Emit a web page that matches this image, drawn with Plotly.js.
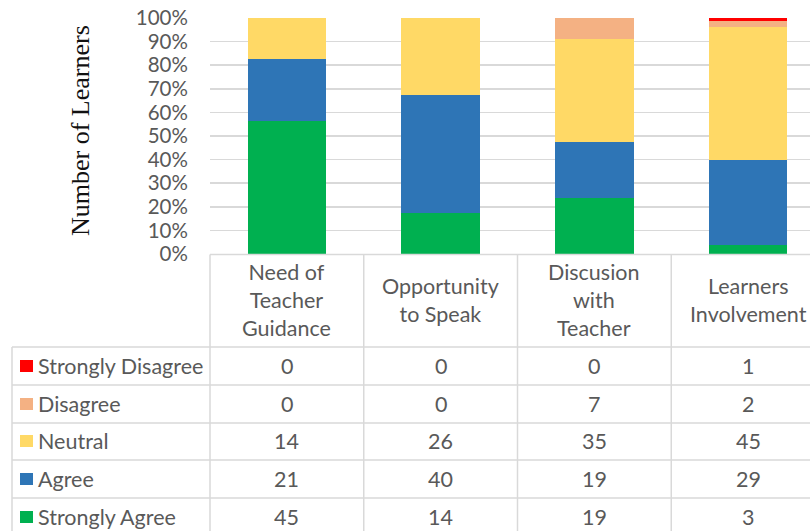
<!DOCTYPE html>
<html>
<head>
<meta charset="utf-8">
<script src="https://cdn.plot.ly/plotly-3.0.1.min.js"></script>
<style>
html,body{margin:0;padding:0;overflow:hidden;background:#fff;width:810px;height:531px;}
#chart{width:830px;height:531px;}
</style>
</head>
<body>
<div id="chart"></div>
<script>
// ---- data ----
const categories = ["Need of Teacher Guidance", "Opportunity to Speak", "Discusion with Teacher", "Learners Involvement"];
const headerLabels = ["Need of<br>Teacher<br>Guidance", "Opportunity<br>to Speak", "Discusion<br>with<br>Teacher", "Learners<br>Involvement"];
const seriesNames = ["Strongly Disagree", "Disagree", "Neutral", "Agree", "Strongly Agree"];
const stronglyDisagree = [0, 0, 0, 1];
const disagree = [0, 0, 7, 2];
const neutral = [14, 26, 35, 45];
const agree = [21, 40, 19, 29];
const stronglyAgree = [45, 14, 19, 3];
const yTickVals = [0, 10, 20, 30, 40, 50, 60, 70, 80, 90, 100];
const yTickText = ["0%", "10%", "20%", "30%", "40%", "50%", "60%", "70%", "80%", "90%", "100%"];

const seriesValues = {
  "Strongly Disagree": stronglyDisagree,
  "Disagree": disagree,
  "Neutral": neutral,
  "Agree": agree,
  "Strongly Agree": stronglyAgree
};
const colors = {
  "Strongly Disagree": "#FF0000",
  "Disagree": "#F4B183",
  "Neutral": "#FFD966",
  "Agree": "#2E75B6",
  "Strongly Agree": "#00B050"
};

// ---- layout geometry (pixels) ----
const W = 830, H = 531;
const L = 210, R = 5, T = 18, B = 277;
const PW = W - L - R, PH = H - T - B;
const px2x = px => (px - L) / PW;
const py2y = py => (H - B - py) / PH;

const font = "Lato, 'Open Sans', sans-serif";
const txtColor = "#595959";
const lineColor = "#d9d9d9";
const tableSize = 21.5;

// stacked bottom -> top
const stackOrder = ["Strongly Agree", "Agree", "Neutral", "Disagree", "Strongly Disagree"];
const traces = stackOrder.map(name => ({
  type: "bar",
  name: name,
  x: categories,
  y: seriesValues[name],
  marker: {color: colors[name], line: {width: 0}},
  hoverinfo: "skip"
}));

const annotations = [];
const shapes = [];

// y axis title
annotations.push({
  text: "Number of Learners", xref: "paper", yref: "paper",
  x: px2x(80), y: py2y(131), xanchor: "center", yanchor: "middle",
  textangle: -90, showarrow: false,
  font: {family: "'Liberation Serif', 'Times New Roman', serif", size: 26, color: "#111"}
});

// header row of table
categories.forEach((c, i) => {
  annotations.push({
    text: headerLabels[i], xref: "x", yref: "paper", x: c, y: py2y(300),
    xanchor: "center", yanchor: "middle", showarrow: false,
    font: {family: font, size: tableSize, color: txtColor}
  });
});

// data rows
const rowCenters = [366, 404, 441, 479, 517];
seriesNames.forEach((name, r) => {
  const cy = rowCenters[r];
  shapes.push({
    type: "rect", xref: "paper", yref: "paper",
    x0: px2x(20), x1: px2x(33), y0: py2y(cy + 6), y1: py2y(cy - 6),
    fillcolor: colors[name], line: {width: 0}
  });
  annotations.push({
    text: name, xref: "paper", yref: "paper", x: px2x(36), y: py2y(cy),
    xanchor: "left", yanchor: "middle", showarrow: false,
    font: {family: font, size: tableSize, color: txtColor}
  });
  categories.forEach((c, i) => {
    annotations.push({
      text: String(seriesValues[name][i]), xref: "x", yref: "paper", x: c, y: py2y(cy),
      xanchor: "center", yanchor: "middle", showarrow: false,
      font: {family: font, size: tableSize, color: txtColor}
    });
  });
});

// table grid lines
const lw = 1.5;
const hLine = (x0, x1, y) => shapes.push({type: "line", xref: "paper", yref: "paper",
  x0: px2x(x0), x1: px2x(x1), y0: py2y(y), y1: py2y(y), line: {color: lineColor, width: lw}});
const vLine = (x, y0, y1) => shapes.push({type: "line", xref: "paper", yref: "paper",
  x0: px2x(x), x1: px2x(x), y0: py2y(y0), y1: py2y(y1), line: {color: lineColor, width: lw}});

hLine(L, W - R, 254.5);
[347, 385, 423, 460, 498].forEach(y => hLine(12, W - R, y));
const colEdges = [0, 1, 2, 3, 4].map(k => L + k * PW / 4);
colEdges.forEach(x => vLine(x, 254.5, 540));
vLine(12, 347, 540);

const layout = {
  width: W, height: H,
  margin: {l: L, r: R, t: T, b: B, pad: 0},
  paper_bgcolor: "#fff", plot_bgcolor: "#fff",
  barmode: "stack", barnorm: "percent", bargap: 0.488,
  showlegend: false,
  xaxis: {
    type: "category", showticklabels: false, showgrid: false, zeroline: false,
    showline: false, ticks: "", fixedrange: true
  },
  yaxis: {
    range: [0, 100], tickvals: yTickVals, ticktext: yTickText,
    showgrid: true, gridcolor: lineColor, gridwidth: 1.5, zeroline: false, showline: false,
    ticks: "outside", ticklen: 17, tickcolor: "rgba(0,0,0,0)",
    tickfont: {family: font, size: 20.5, color: txtColor}, fixedrange: true
  },
  annotations: annotations,
  shapes: shapes
};

Plotly.newPlot("chart", traces, layout, {displayModeBar: false, staticPlot: true});
</script>
</body>
</html>
